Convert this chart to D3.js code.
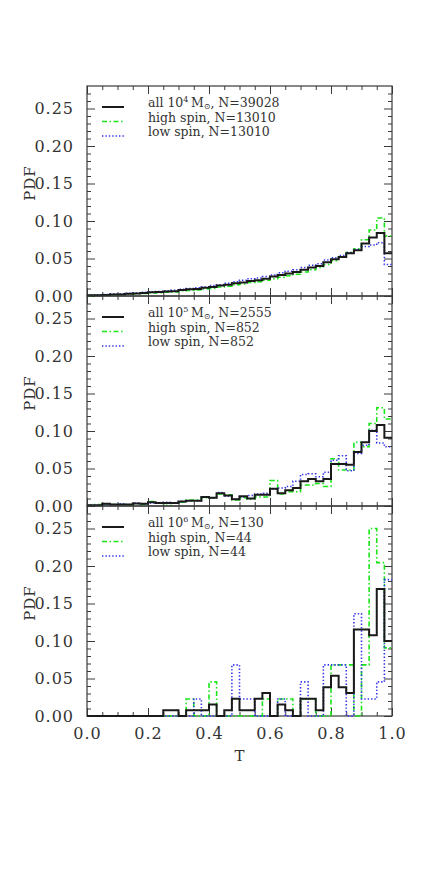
<!DOCTYPE html>
<html><head><meta charset="utf-8">
<script src="https://cdn.jsdelivr.net/npm/d3@7"></script>
<style>
html,body{margin:0;padding:0;background:#fff;}
svg{display:block;}
</style></head>
<body>
<svg id="chart" width="436" height="872"></svg>
<script>
// ---------- data ----------
const binLo = [0,0.025,0.05,0.075,0.1,0.125,0.15,0.175,0.2,0.225,0.25,0.275,0.3,0.325,0.35,0.375,0.4,0.425,0.45,0.475,
               0.5,0.525,0.55,0.575,0.6,0.625,0.65,0.675,0.7,0.725,0.75,0.775,0.8,0.825,0.85,0.875,0.9,0.925,0.95,0.975];
const binWidth = 0.025;

// panel 1 : 10^4 Msun
const p1All  = [0.001,0.001,0.0015,0.002,0.002,0.003,0.0035,0.004,0.005,0.0055,0.006,0.0065,0.008,0.009,0.0095,0.011,0.012,0.014,0.015,0.017,
                0.018,0.020,0.021,0.023,0.026,0.028,0.030,0.032,0.035,0.038,0.040,0.045,0.049,0.052,0.057,0.061,0.070,0.078,0.084,0.057];
const p1High = [0.0005,0.001,0.001,0.0015,0.002,0.0025,0.003,0.0035,0.004,0.0045,0.005,0.0055,0.007,0.0075,0.008,0.0095,0.010,0.012,0.013,0.015,
                0.016,0.018,0.019,0.021,0.023,0.025,0.027,0.029,0.032,0.035,0.038,0.042,0.047,0.052,0.058,0.063,0.075,0.088,0.104,0.080];
const p1Low  = [0.001,0.0015,0.002,0.0025,0.003,0.0035,0.004,0.005,0.0055,0.006,0.007,0.0075,0.009,0.010,0.011,0.012,0.014,0.015,0.017,0.019,
                0.021,0.023,0.024,0.026,0.028,0.031,0.033,0.035,0.038,0.041,0.043,0.048,0.051,0.054,0.058,0.062,0.066,0.068,0.071,0.042];

// panel 2 : 10^5 Msun
const p2All  = [0.001,0.001,0.003,0.002,0.002,0.002,0.0035,0.003,0.005,0.004,0.004,0.004,0.006,0.007,0.007,0.012,0.011,0.017,0.014,0.009,
                0.013,0.010,0.015,0.015,0.023,0.017,0.021,0.024,0.033,0.036,0.033,0.036,0.056,0.056,0.055,0.072,0.085,0.100,0.108,0.091];
const p2High = [0.001,0.002,0.002,0.002,0.002,0.001,0.003,0.002,0.006,0.004,0.003,0.004,0.005,0.008,0.008,0.011,0.011,0.016,0.015,0.008,
                0.011,0.009,0.012,0.012,0.034,0.016,0.019,0.019,0.028,0.028,0.030,0.026,0.063,0.048,0.048,0.085,0.079,0.110,0.131,0.116];
const p2Low  = [0.001,0.001,0.002,0.002,0.003,0.002,0.004,0.003,0.004,0.004,0.005,0.004,0.006,0.007,0.007,0.012,0.011,0.018,0.013,0.009,
                0.012,0.014,0.016,0.017,0.023,0.024,0.026,0.033,0.042,0.043,0.039,0.045,0.061,0.067,0.047,0.070,0.081,0.101,0.084,0.079];

// panel 3 : 10^6 Msun
const p3All  = [0,0,0,0,0,0,0,0,0,0,0.0077,0.0077,0,0.0077,0.0077,0.0077,0.0154,0,0.0077,0.0231,
                0.0077,0.0077,0.0231,0.0308,0,0.0154,0.0077,0,0.0231,0.0231,0.0077,0.0385,0.0538,0.0385,0.0308,0.1154,0.1154,0.1077,0.1692,0.1000];
const p3High = [0,0,0,0,0,0,0,0,0,0,0,0,0,0.0227,0,0,0.0455,0,0,0,
                0,0,0,0.0227,0,0.0227,0.0227,0,0.0227,0.0227,0,0,0.0682,0.0682,0.0682,0,0.0682,0.2500,0.2045,0.0909];
const p3Low  = [0,0,0,0,0,0,0,0,0,0,0,0,0,0,0.0227,0,0,0,0,0.0682,
                0.0227,0.0227,0,0,0,0.0227,0,0,0.0455,0,0,0.0682,0.0682,0.0682,0,0.1364,0.0227,0.0227,0.0455,0.1818];

const legendAll  = [["4","39028"],["5","2555"],["6","130"]];
const legendHigh = ["13010","852","44"];
const legendLow  = ["13010","852","44"];

const yTickVals   = [0,0.05,0.10,0.15,0.20,0.25];
const yTickLabels = ["0.00","0.05","0.10","0.15","0.20","0.25"];
const xTickVals   = [0,0.2,0.4,0.6,0.8,1.0];
const xTickLabels = ["0.0","0.2","0.4","0.6","0.8","1.0"];
const yMinorVals  = [0.01,0.02,0.03,0.04,0.06,0.07,0.08,0.09,0.11,0.12,0.13,0.14,0.16,0.17,0.18,0.19,0.21,0.22,0.23,0.24,0.26,0.27];
const xMinorVals  = [0.05,0.1,0.15,0.25,0.3,0.35,0.45,0.5,0.55,0.65,0.7,0.75,0.85,0.9,0.95];

const panels = [
  {all:p1All, high:p1High, low:p1Low},
  {all:p2All, high:p2High, low:p2Low},
  {all:p3All, high:p3High, low:p3Low}
];

// ---------- layout ----------
const L = 87, R = 392, PH = 210, TOP0 = 86;
const FONT = "'DejaVu Serif', serif";
const frameCol = "#3a3a3a", textCol = "#333";
const greenCol = "#19e619", blueCol = "#3535ee";

const svg = d3.select("#chart");
const x = d3.scaleLinear().domain([0,1]).range([L,R]);

const line = (ys) => d3.line()
  .x(d => x(d[0])).y(d => ys(d[1]))
  .curve(d3.curveStepAfter);

function stepData(vals){
  const pts = binLo.map((b,i)=>[b, vals[i]]);
  pts.push([binLo[binLo.length-1]+binWidth, vals[vals.length-1]]);
  return pts;
}

panels.forEach((p, k) => {
  const top = TOP0 + k*PH;
  const y = d3.scaleLinear().domain([0,0.28]).range([top+PH, top]);
  const g = svg.append("g");

  const clipId = "clip"+k;
  svg.append("clipPath").attr("id", clipId).append("rect")
     .attr("x", L).attr("y", top-2).attr("width", R-L).attr("height", PH+3);

  const styleAxis = sel => {
    sel.select(".domain").remove();
    sel.selectAll(".tick line").attr("stroke", frameCol).attr("stroke-width", 1);
    sel.selectAll(".tick text").attr("fill", textCol).style("font-family", FONT);
  };
  g.append("g").attr("transform",`translate(${L},0)`)
    .call(d3.axisLeft(y).tickValues(yTickVals).tickSize(-8).tickPadding(13)
      .tickFormat((d,i)=>yTickLabels[i]))
    .call(styleAxis)
    .call(s=>s.selectAll(".tick text").style("font-size","16px").attr("letter-spacing","1"));
  g.append("g").attr("transform",`translate(${L},0)`)
    .call(d3.axisLeft(y).tickValues(yMinorVals).tickSize(-4).tickFormat(""))
    .call(styleAxis);
  g.append("g").attr("transform",`translate(${R},0)`)
    .call(d3.axisRight(y).tickValues(yTickVals).tickSize(-8).tickFormat(""))
    .call(styleAxis);
  g.append("g").attr("transform",`translate(${R},0)`)
    .call(d3.axisRight(y).tickValues(yMinorVals).tickSize(-4).tickFormat(""))
    .call(styleAxis);

  const bottomMajor = d3.axisBottom(x).tickValues(xTickVals).tickSize(-8).tickPadding(12)
      .tickFormat(k===2 ? ((d,i)=>xTickLabels[i]) : "");
  g.append("g").attr("transform",`translate(0,${top+PH})`)
    .call(bottomMajor).call(styleAxis)
    .call(s=>s.selectAll(".tick text").style("font-size","16px").attr("letter-spacing","1"));
  g.append("g").attr("transform",`translate(0,${top+PH})`)
    .call(d3.axisBottom(x).tickValues(xMinorVals).tickSize(-4).tickFormat(""))
    .call(styleAxis);
  g.append("g").attr("transform",`translate(0,${top})`)
    .call(d3.axisTop(x).tickValues(xTickVals).tickSize(-8).tickFormat(""))
    .call(styleAxis);
  g.append("g").attr("transform",`translate(0,${top})`)
    .call(d3.axisTop(x).tickValues(xMinorVals).tickSize(-4).tickFormat(""))
    .call(styleAxis);

  g.append("rect").attr("x", L).attr("y", top).attr("width", R-L).attr("height", PH)
    .attr("fill","none").attr("stroke", frameCol).attr("stroke-width", 1.2);

  const lg = g.append("g").attr("clip-path", `url(#${clipId})`);
  lg.append("path").datum(stepData(p.high)).attr("d", line(y))
    .attr("fill","none").attr("stroke", greenCol).attr("stroke-width",1.6)
    .attr("stroke-dasharray","5,2.5,1.5,2.5");
  lg.append("path").datum(stepData(p.low)).attr("d", line(y))
    .attr("fill","none").attr("stroke", blueCol).attr("stroke-width",1.6)
    .attr("stroke-dasharray","1.4,2");
  lg.append("path").datum(stepData(p.all)).attr("d", line(y))
    .attr("fill","none").attr("stroke", "#1a1a1a").attr("stroke-width",2);

  g.append("text").attr("transform",`translate(35,${top+PH/2-8}) rotate(-90)`)
    .attr("text-anchor","middle").attr("fill", textCol)
    .style("font-family", FONT).style("font-size","15px").attr("letter-spacing","1")
    .text("PDF");

  const rows = [top+21, top+35.5, top+50];
  const sx1 = 102, sx2 = 124, tx = 148;
  const lgd = g.append("g").style("font-family", FONT).style("font-size","12.5px").attr("fill", textCol);
  lgd.append("line").attr("x1",sx1).attr("x2",sx2).attr("y1",rows[0]).attr("y2",rows[0])
    .attr("stroke","#1a1a1a").attr("stroke-width",2);
  lgd.append("line").attr("x1",sx1).attr("x2",sx2).attr("y1",rows[1]).attr("y2",rows[1])
    .attr("stroke",greenCol).attr("stroke-width",1.6).attr("stroke-dasharray","5,2.5,1.5,2.5");
  lgd.append("line").attr("x1",sx1).attr("x2",sx2).attr("y1",rows[2]).attr("y2",rows[2])
    .attr("stroke",blueCol).attr("stroke-width",1.6).attr("stroke-dasharray","1.4,2");

  const t1 = lgd.append("text").attr("x", tx).attr("y", rows[0]);
  t1.append("tspan").text("all 10");
  t1.append("tspan").attr("dy",-5).style("font-size","8px").text(legendAll[k][0]);
  t1.append("tspan").attr("dy",5).text("\u2009M");
  t1.append("tspan").attr("dy",2).style("font-size","8px").text("\u2299");
  t1.append("tspan").attr("dy",-2).text(", N=" + legendAll[k][1]);
  lgd.append("text").attr("x", tx).attr("y", rows[1]).text("high spin, N=" + legendHigh[k]);
  lgd.append("text").attr("x", tx).attr("y", rows[2]).text("low spin, N=" + legendLow[k]);
});

svg.append("text").attr("x", (L+R)/2).attr("y", 761).attr("text-anchor","middle")
  .attr("fill", textCol).style("font-family", FONT).style("font-size","15px").text("T");
</script>
</body></html>
